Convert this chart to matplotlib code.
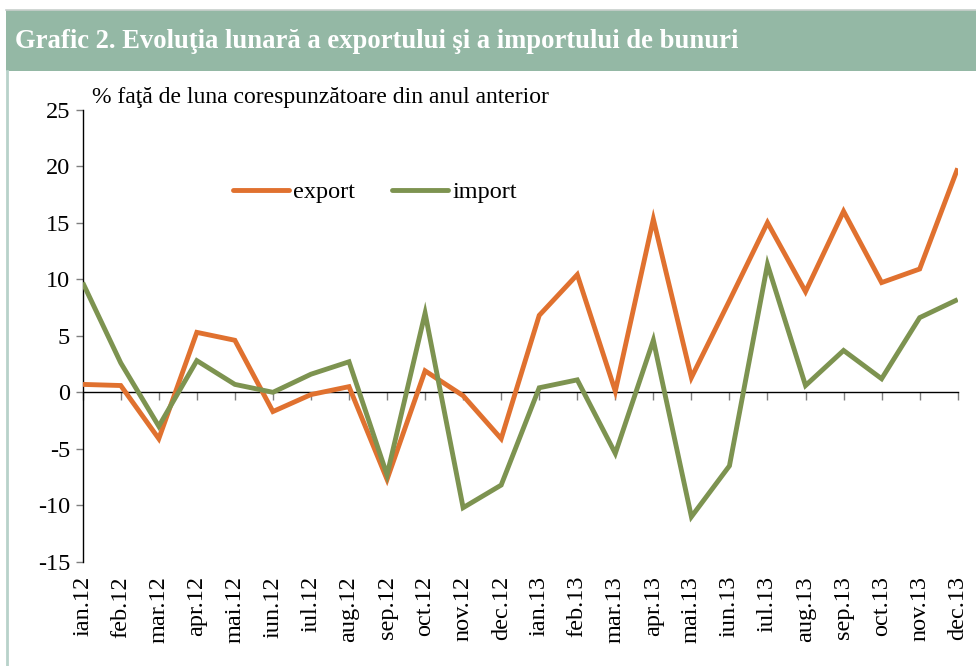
import matplotlib
matplotlib.use("Agg")
import matplotlib.pyplot as plt
from matplotlib.patches import Rectangle
from matplotlib.lines import Line2D

months = ["ian.12", "feb.12", "mar.12", "apr.12", "mai.12", "iun.12", "iul.12", "aug.12",
          "sep.12", "oct.12", "nov.12", "dec.12", "ian.13", "feb.13", "mar.13", "apr.13",
          "mai.13", "iun.13", "iul.13", "aug.13", "sep.13", "oct.13", "nov.13", "dec.13"]
export_vals = [0.7, 0.6, -4.1, 5.3, 4.6, -1.7, -0.2, 0.5, -7.7, 1.9, -0.3, -4.1,
               6.8, 10.4, 0.1, 15.3, 1.3, 8.1, 15.0, 8.9, 16.0, 9.7, 10.9, 19.8]
import_vals = [9.7, 2.6, -3.0, 2.8, 0.7, 0.0, 1.6, 2.7, -7.3, 7.0, -10.2, -8.2,
               0.4, 1.1, -5.4, 4.6, -11.0, -6.5, 11.3, 0.6, 3.7, 1.2, 6.6, 8.2]
yticks = [-15, -10, -5, 0, 5, 10, 15, 20, 25]

title = "Grafic 2. Evoluţia lunară a exportului şi a importului de bunuri"
ylabel = "% faţă de luna corespunzătoare din anul anterior"

plt.rcParams["font.family"] = ["Liberation Serif", "DejaVu Serif"]

W, H = 976, 666
fig = plt.figure(figsize=(W / 100, H / 100), dpi=100)

# header band
fig.patches.append(Rectangle((6 / W, 1 - 71 / H), 1 - 6 / W, 61 / H, transform=fig.transFigure,
                             facecolor="#94B8A5", edgecolor="none", zorder=0))
fig.add_artist(Line2D([6 / W, 1], [1 - 10 / H, 1 - 10 / H], color="#c8cfcc", lw=1.2,
                      transform=fig.transFigure))
fig.add_artist(Line2D([7 / W, 7 / W], [0, 1 - 71 / H], color="#b8d2ca", lw=2,
                      transform=fig.transFigure))
fig.text(15 / W, 1 - 42 / H, title, color="white", fontsize=19.2, fontweight="bold",
         ha="left", va="center")

left, right, top, bottom = 82.7 / W, 957.7 / W, 109.5 / H, 562 / H
ax = fig.add_axes([left, 1 - bottom, right - left, bottom - top])

x = list(range(len(months)))
ax.plot(x, export_vals, color="#E0712F", lw=3.5, label="export", solid_joinstyle="miter",
        solid_capstyle="butt", zorder=3)
ax.plot(x, import_vals, color="#7D9350", lw=3.5, label="import", solid_joinstyle="miter",
        solid_capstyle="butt", zorder=3)

ax.set_xlim(0, len(months) - 1)
ax.set_ylim(yticks[0], yticks[-1])
ax.set_yticks(yticks)
ax.set_yticklabels([str(v) for v in yticks], fontsize=17.5)
ax.tick_params(axis="y", direction="out", length=5, color="#7f7f7f", width=1, pad=4)

for s in ["top", "right", "bottom"]:
    ax.spines[s].set_visible(False)
ax.spines["left"].set_color("black")
ax.spines["left"].set_linewidth(1)

ax.set_xticks(x)
ax.set_xticklabels(months, rotation=90, fontsize=17.5)
ax.tick_params(axis="x", length=0, pad=10)

# zero axis line with tick marks
zero_frac = (0 - yticks[0]) / (yticks[-1] - yticks[0])
sec = ax.secondary_xaxis(zero_frac)
sec.set_xticks(x)
sec.set_xticklabels([])
sec.tick_params(axis="x", direction="out", length=6, color="#7f7f7f", width=1)
sec.spines["bottom"].set_color("black")
sec.spines["bottom"].set_linewidth(1)

leg = ax.legend(ncol=2, loc="center", bbox_to_anchor=((375 - 82.7) / 875, (562 - 192) / 452.5),
                frameon=False, fontsize=17.5, handlelength=2.3, handletextpad=0.2,
                columnspacing=1.5)
for h in leg.get_lines():
    h.set_solid_capstyle("round")

fig.text(92 / W, 1 - 97 / H, ylabel, fontsize=17, ha="left", va="center")

fig.savefig("out.png", dpi=100)
